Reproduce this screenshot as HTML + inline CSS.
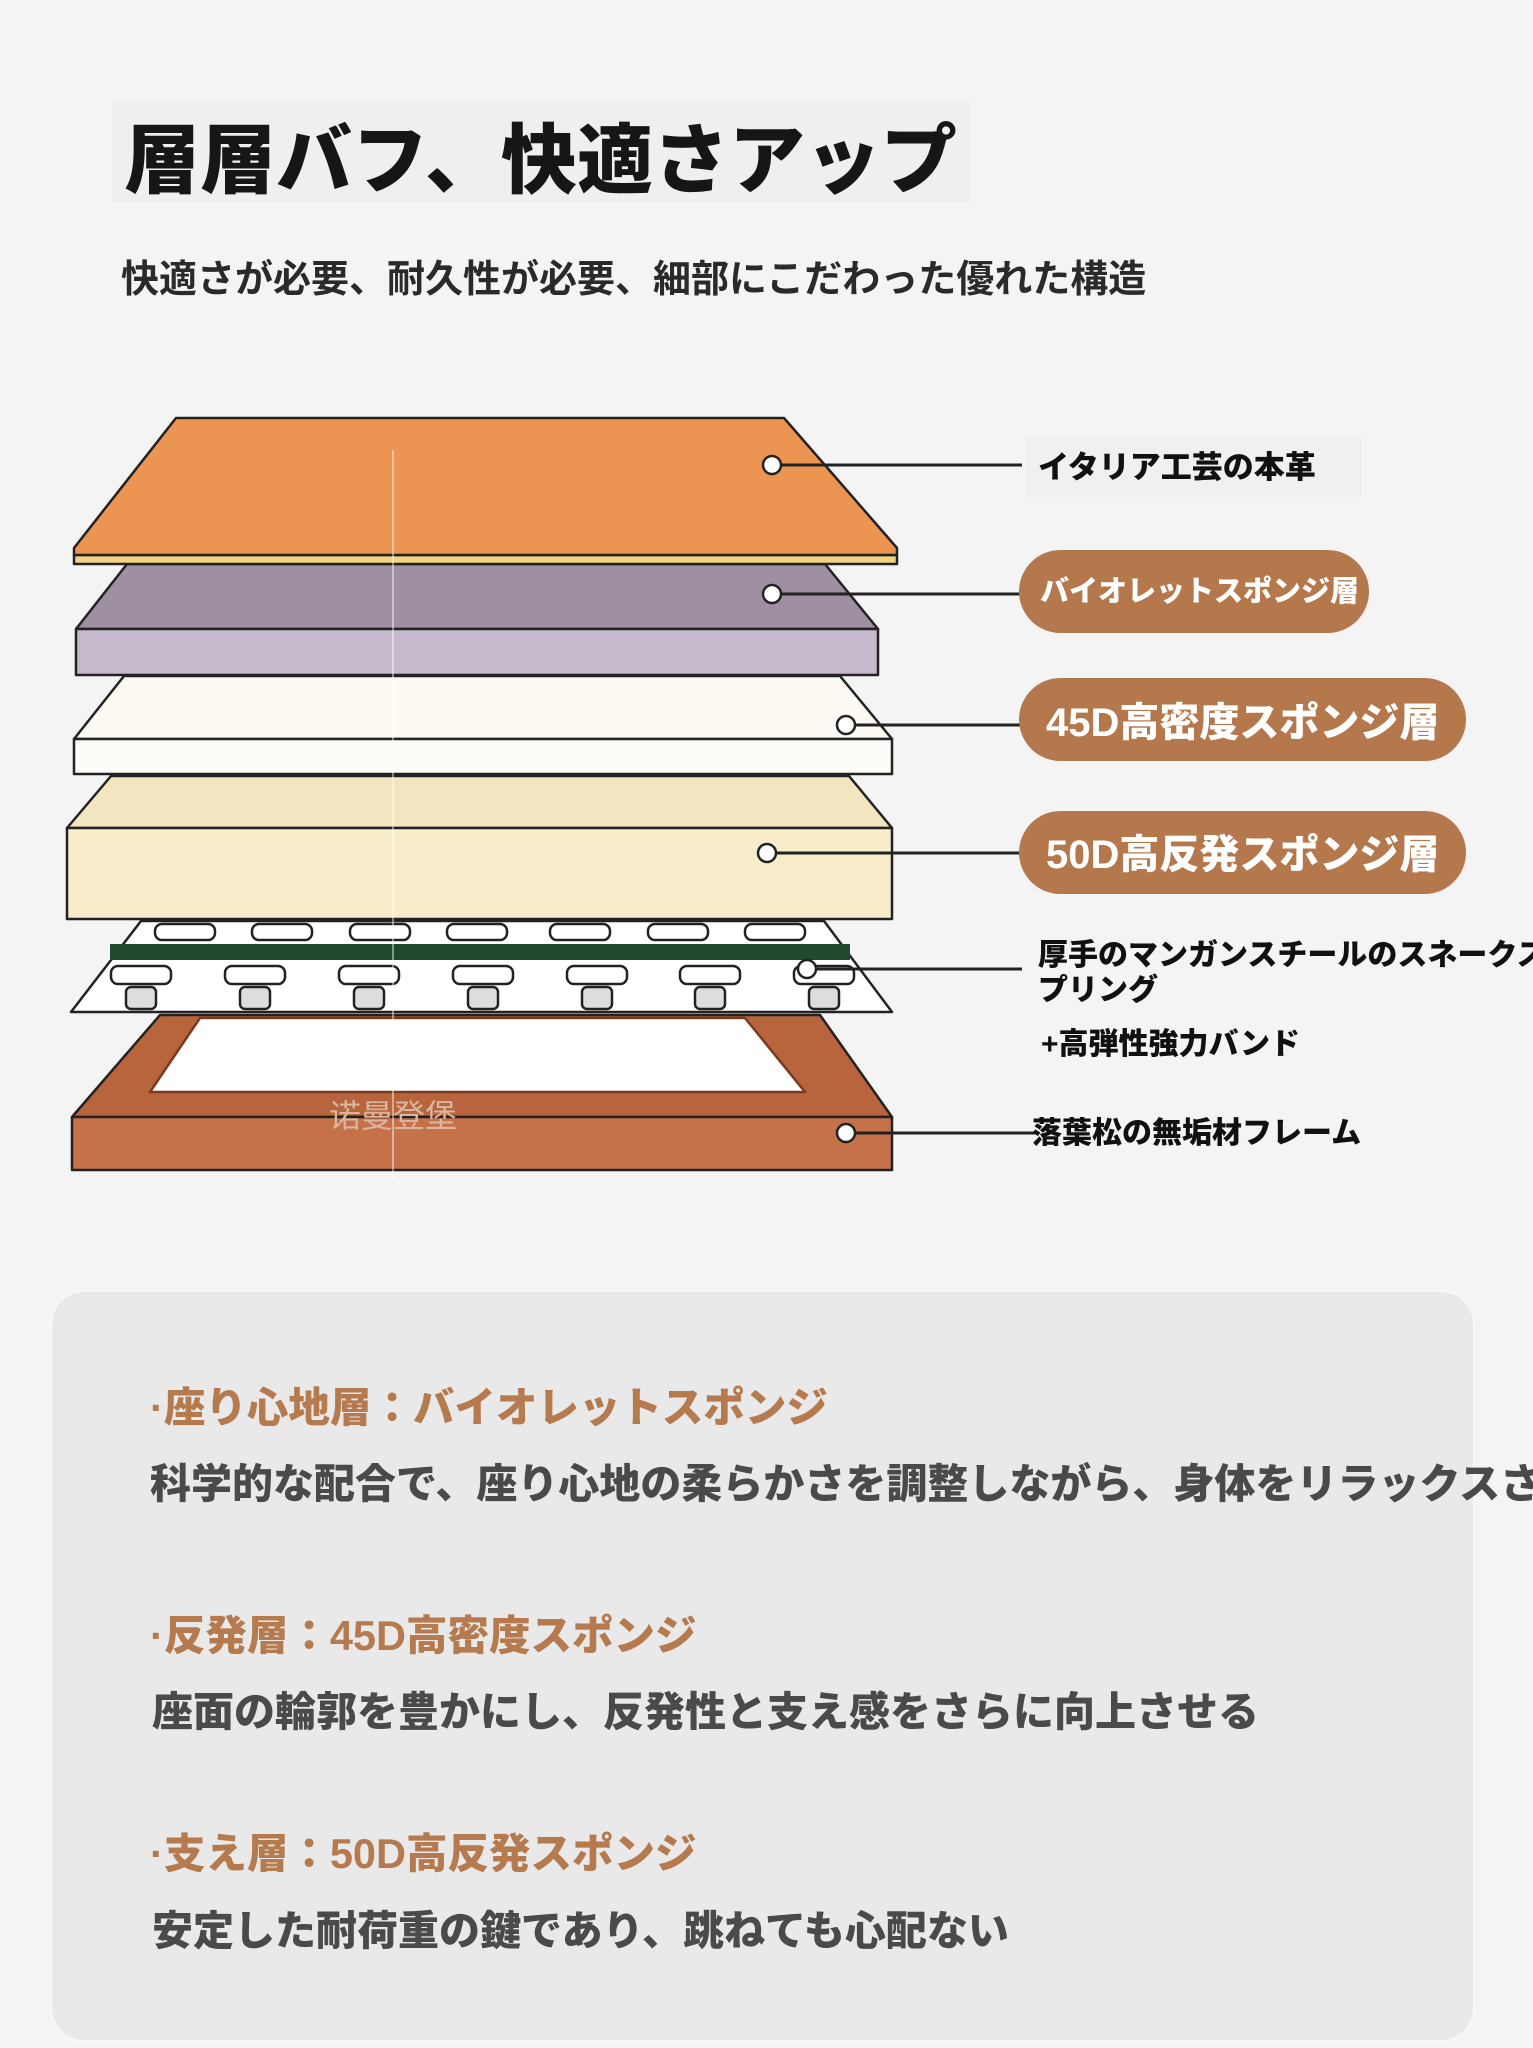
<!DOCTYPE html>
<html><head><meta charset="utf-8">
<style>
html,body{margin:0;padding:0;}
body{width:1533px;height:2048px;background:#f4f4f4;position:relative;overflow:hidden;font-family:"Liberation Sans","Noto Sans CJK JP",sans-serif;}
.t{position:absolute;white-space:nowrap;font-weight:900;}
.card{position:absolute;left:50px;top:1290px;width:1421px;height:748px;background:#e9e9e9;border:2px solid #f8f8f8;border-radius:34px;}
.clip{position:absolute;left:0;top:0;width:1533px;height:2048px;overflow:hidden;}
</style></head><body>
<div class="clip">
<div class="t" style="left:112px;top:100px;width:858px;height:102px;background:#efefef;"></div>
<div class="t" style="left:124px;top:117px;font-size:76px;line-height:90px;color:#161616;">層層バフ、快適さアップ</div>
<div class="t" style="left:121px;top:255px;font-size:38px;line-height:50px;color:#2a2a2a;font-weight:700;">快適さが必要、耐久性が必要、細部にこだわった優れた構造</div>

<svg style="position:absolute;left:0;top:0" width="1533" height="1200">
<g stroke="#222" stroke-width="2.5" stroke-linejoin="round">
<polygon points="160,1015 820,1015 892,1117 72,1117" fill="#b8643d"/>
<polygon points="200,1018 745,1018 805,1092 150,1092" fill="#fff" stroke="#7a3a20"/>
<rect x="72" y="1117" width="820" height="53" fill="#c5714a"/>
<polygon points="141,921 824,921 892,1012 71,1012" fill="#fff"/>
<rect x="110" y="944" width="740" height="16" fill="#1f4a30" stroke="none"/>
</g>
<g fill="#fff" stroke="#222" stroke-width="2.5">
<rect x="155" y="924" width="60" height="16" rx="7"/><rect x="252" y="924" width="60" height="16" rx="7"/><rect x="350" y="924" width="60" height="16" rx="7"/><rect x="447" y="924" width="60" height="16" rx="7"/><rect x="550" y="924" width="60" height="16" rx="7"/><rect x="648" y="924" width="60" height="16" rx="7"/><rect x="745" y="924" width="60" height="16" rx="7"/>
<rect x="111" y="966" width="60" height="18" rx="7"/><rect x="225" y="966" width="60" height="18" rx="7"/><rect x="339" y="966" width="60" height="18" rx="7"/><rect x="453" y="966" width="60" height="18" rx="7"/><rect x="567" y="966" width="60" height="18" rx="7"/><rect x="680" y="966" width="60" height="18" rx="7"/><rect x="794" y="966" width="60" height="18" rx="7"/>
<rect x="126" y="987" width="30" height="22" rx="5" fill="#ddd"/><rect x="240" y="987" width="30" height="22" rx="5" fill="#ddd"/><rect x="354" y="987" width="30" height="22" rx="5" fill="#ddd"/><rect x="468" y="987" width="30" height="22" rx="5" fill="#ddd"/><rect x="582" y="987" width="30" height="22" rx="5" fill="#ddd"/><rect x="695" y="987" width="30" height="22" rx="5" fill="#ddd"/><rect x="809" y="987" width="30" height="22" rx="5" fill="#ddd"/>
</g>
<g stroke="#222" stroke-width="2.5" stroke-linejoin="round">
<polygon points="111,776 849,776 892,828 67,828" fill="#f4e5c1"/>
<rect x="67" y="828" width="825" height="91" fill="#f8edcb"/>
<polygon points="124,676 840,676 892,739 74,739" fill="#fdfaf4"/>
<rect x="74" y="739" width="818" height="35" fill="#fefcf8"/>
<polygon points="127,564 825,564 878,629 76,629" fill="#9f8fa2"/>
<rect x="76" y="629" width="802" height="46" fill="#c6b9cb"/>
<polygon points="74,555 897,555 897,564 74,564" fill="#f3d280"/>
<polygon points="176,418 784,418 897,548 897,555 74,555 74,548" fill="#ec9553"/>
</g>
<line x1="393" y1="450" x2="393" y2="1180" stroke="#fff" stroke-width="1.5" opacity="0.6"/>
<text x="393" y="1127" font-size="32" fill="#d9b6a0" text-anchor="middle" font-family="Noto Sans CJK SC,sans-serif">诺曼登堡</text>
<g stroke="#222" stroke-width="3">
<line x1="772" y1="465" x2="1022" y2="465"/>
<line x1="772" y1="594" x2="1022" y2="594"/>
<line x1="846" y1="725" x2="1022" y2="725"/>
<line x1="767" y1="853" x2="1022" y2="853"/>
<line x1="807" y1="969" x2="1022" y2="969"/>
<line x1="846" y1="1133" x2="1035" y2="1133"/>
</g>
<g fill="#fff" stroke="#222" stroke-width="2.5">
<circle cx="772" cy="465" r="9"/><circle cx="772" cy="594" r="9"/><circle cx="846" cy="725" r="9"/><circle cx="767" cy="853" r="9"/><circle cx="807" cy="969" r="9"/><circle cx="846" cy="1133" r="9"/>
</g>
</svg>

<div class="t" style="left:1026px;top:435px;width:336px;height:62px;background:#f0f0f0;"></div>
<div class="t" style="left:1038px;top:448px;font-size:31px;line-height:40px;color:#111;">イタリア工芸の本革</div>

<div class="t" style="left:1019px;top:550px;width:350px;height:83px;border-radius:42px;background:#b5784d;"></div>
<div class="t" style="left:1040px;top:573px;font-size:29px;line-height:38px;color:#fff;">バイオレットスポンジ層</div>
<div class="t" style="left:1019px;top:678px;width:447px;height:83px;border-radius:42px;background:#b5784d;"></div>
<div class="t" style="left:1046px;top:700px;font-size:40px;line-height:46px;color:#fff;">45D高密度スポンジ層</div>
<div class="t" style="left:1019px;top:811px;width:447px;height:83px;border-radius:42px;background:#b5784d;"></div>
<div class="t" style="left:1046px;top:832px;font-size:40px;line-height:46px;color:#fff;">50D高反発スポンジ層</div>

<div class="t" style="left:1038px;top:938px;font-size:30px;line-height:35px;color:#111;">厚手のマンガンスチールのスネークス<br>プリング</div>
<div class="t" style="left:1041px;top:1027px;font-size:30px;line-height:36px;color:#111;">+高弾性強力バンド</div>
<div class="t" style="left:1032px;top:1115px;font-size:30px;line-height:38px;color:#111;">落葉松の無垢材フレーム</div>

<div class="card"></div>
<div class="t" style="left:150px;top:1383px;font-size:41.5px;line-height:50px;color:#b57a4e;">·座り心地層：バイオレットスポンジ</div>
<div class="t" style="left:150px;top:1459px;font-size:41px;line-height:50px;color:#4a4a4a;">科学的な配合で、座り心地の柔らかさを調整しながら、身体をリラックスさせる</div>
<div class="t" style="left:150px;top:1611px;font-size:41.5px;line-height:50px;color:#b57a4e;">·反発層：45D高密度スポンジ</div>
<div class="t" style="left:152px;top:1687px;font-size:41px;line-height:50px;color:#4a4a4a;">座面の輪郭を豊かにし、反発性と支え感をさらに向上させる</div>
<div class="t" style="left:150px;top:1829px;font-size:41.5px;line-height:50px;color:#b57a4e;">·支え層：50D高反発スポンジ</div>
<div class="t" style="left:152px;top:1906px;font-size:41px;line-height:50px;color:#4a4a4a;">安定した耐荷重の鍵であり、跳ねても心配ない</div>
</div>
</body></html>
